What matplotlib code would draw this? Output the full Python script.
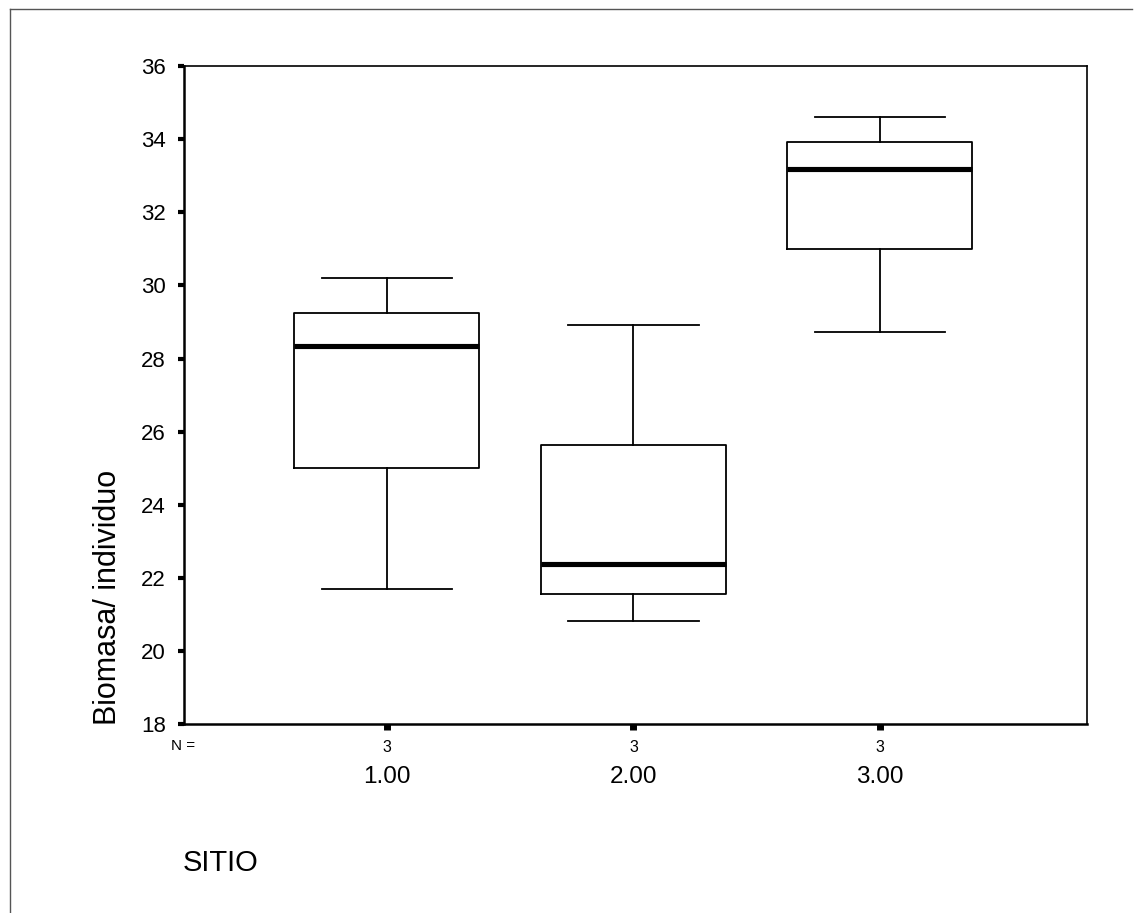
import matplotlib.pyplot as plt
from matplotlib.lines import Line2D
import matplotlib.transforms as mtransforms

plt.rcParams['font.family'] = ['Liberation Sans', 'DejaVu Sans']

# values
sitio = ['1.00', '2.00', '3.00']
n_obs = [3, 3, 3]
whis_lo = [21.69, 20.82, 28.73]
q1 = [25.00, 21.55, 31.00]
median = [28.34, 22.37, 33.18]
q3 = [29.24, 25.64, 33.91]
whis_hi = [30.19, 28.93, 34.62]
yticks = [18, 20, 22, 24, 26, 28, 30, 32, 34, 36]

stats = []
for i in range(len(sitio)):
    stats.append({'label': sitio[i], 'whislo': whis_lo[i], 'q1': q1[i],
                  'med': median[i], 'q3': q3[i], 'whishi': whis_hi[i]})

fig = plt.figure(figsize=(11.4, 9.13), dpi=100)
ax = fig.add_axes([0.1614, 0.207, 0.7921, 0.7206])

pos = [1, 2, 3]
ax.bxp(stats, positions=pos, widths=0.75, capwidths=0.53, showfliers=False,
       boxprops=dict(color='black', linewidth=1.3),
       whiskerprops=dict(color='black', linewidth=1.3),
       capprops=dict(color='black', linewidth=1.3),
       medianprops=dict(color='black', linewidth=3.7))

ax.set_xlim(0.177, 3.84)
ax.set_ylim(18, 36)
ax.set_yticks(yticks)
ax.set_yticklabels([str(v) for v in yticks], fontsize=16)
ax.tick_params(axis='y', direction='out', length=4, width=3, pad=9)
ax.set_xticks(pos)
ax.set_xticklabels([])
ax.tick_params(axis='x', direction='out', length=4, width=5)

for side in ['left', 'bottom']:
    ax.spines[side].set_linewidth(1.8)
for side in ['top', 'right']:
    ax.spines[side].set_linewidth(1.2)

# N = row and category labels under the axis
trans = mtransforms.blended_transform_factory(ax.transData, fig.transFigure)
fig.text(183 / 1140, 1 - 746 / 913, 'N =', fontsize=11, ha='center', va='center')
for i in range(len(sitio)):
    ax.text(pos[i], 1 - 747 / 913, str(n_obs[i]), transform=trans,
            fontsize=11.5, ha='center', va='center')
    ax.text(pos[i], 1 - 777 / 913, sitio[i], transform=trans,
            fontsize=17.5, ha='center', va='center')

fig.text(183 / 1140, 1 - 863 / 913, 'SITIO', fontsize=21, ha='left', va='center')
fig.text(108 / 1140, 1 - 725 / 913, 'Biomasa/ individuo', fontsize=22,
         rotation=90, ha='center', va='bottom')

# outer frame of the scanned page
fig.add_artist(Line2D([10 / 1140, 1132 / 1140], [1 - 9 / 913, 1 - 9 / 913],
                      color='#555555', linewidth=1.0))
fig.add_artist(Line2D([10 / 1140, 10 / 1140], [1 - 9 / 913, 0],
                      color='#555555', linewidth=1.0))

fig.savefig('out.png', dpi=100)
